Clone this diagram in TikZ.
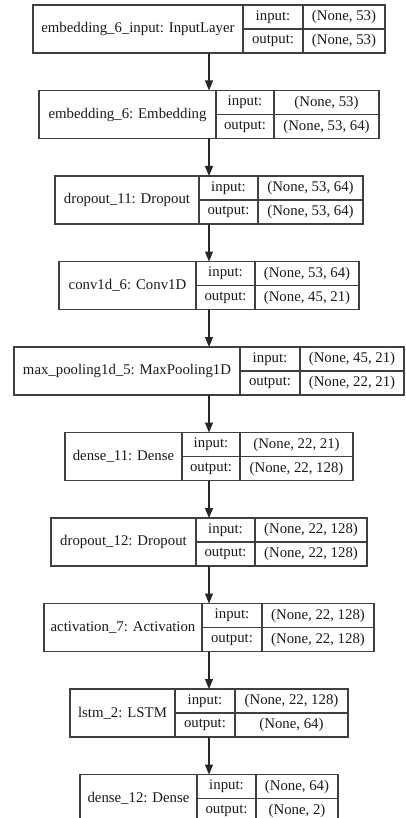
\documentclass[tikz,border=0pt]{standalone}
\usepackage{fontspec}
\setmainfont{Liberation Serif}
\usetikzlibrary{arrows.meta, positioning}

\begin{document}
\begin{tikzpicture}[
    x=1pt, y=-1pt,
    font=\fontsize{14.8}{17}\selectfont,
    >={Triangle[length=10pt, width=8pt]},
    cell/.style={draw=black!75, line width=1.1pt, rectangle, inner sep=0pt, outer sep=0pt, text=black!90, anchor=north west},
    arrow/.style={->, line width=1.1pt, black!85}
  ]
    \useasboundingbox (0,0) rectangle (405,818);
    \coordinate (axis) at (209,0);
    % one record per layer: left edge, the two dividers, name, shapes
    \foreach \id/\xa/\xb/\xc/\lname/\sin/\sout [count=\i from 0] in {
        l0/33/243/303/{embedding\_6\_input: InputLayer}/{(None, 53)}/{(None, 53)},
        l1/39/216/274/{embedding\_6: Embedding}/{(None, 53)}/{(None, 53, 64)},
        l2/55/199/258/{dropout\_11: Dropout}/{(None, 53, 64)}/{(None, 53, 64)},
        l3/59/196/255/{conv1d\_6: Conv1D}/{(None, 53, 64)}/{(None, 45, 21)},
        l4/14/240/300/{max\_pooling1d\_5: MaxPooling1D}/{(None, 45, 21)}/{(None, 22, 21)},
        l5/65/182/240/{dense\_11: Dense}/{(None, 22, 21)}/{(None, 22, 128)},
        l6/51/196/255/{dropout\_12: Dropout}/{(None, 22, 128)}/{(None, 22, 128)},
        l7/44/202/262/{activation\_7: Activation}/{(None, 22, 128)}/{(None, 22, 128)},
        l8/70/175/235/{lstm\_2: LSTM}/{(None, 22, 128)}/{(None, 64)},
        l9/80/197/256/{dense\_12: Dense}/{(None, 64)}/{(None, 2)}%
      }{
      \pgfmathsetmacro{\yt}{5+85.5*\i}
      \node[cell, minimum width=\xb-\xa, minimum height=48] (\id) at (\xa,\yt) {\lname};
      \node[cell, minimum width=\xc-\xb, minimum height=24] (\id-il) at (\id.north east) {input:};
      \node[cell, minimum width=\xc-\xb, minimum height=24] (\id-ol) at (\id-il.south west) {output:};
      \node[cell, minimum width=418-\xa-\xc, minimum height=24] (\id-iv) at (\id-il.north east) {\sin};
      \node[cell, minimum width=418-\xa-\xc, minimum height=24] (\id-ov) at (\id-ol.north east) {\sout};
    }
    \foreach \p/\q in {l0/l1, l1/l2, l2/l3, l3/l4, l4/l5, l5/l6, l6/l7, l7/l8, l8/l9}
      \draw[arrow] (\p.south -| axis) -- (\q.north -| axis);
  \end{tikzpicture}
\end{document}
